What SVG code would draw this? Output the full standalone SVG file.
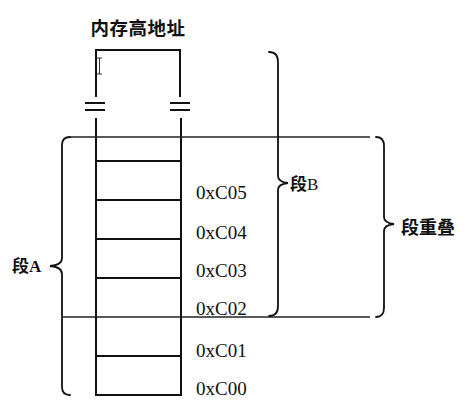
<svg xmlns="http://www.w3.org/2000/svg" width="471" height="406" viewBox="0 0 471 406">
<style>
.col{stroke:#111;stroke-width:2;fill:none}
.thin{stroke:#222;stroke-width:1.3;fill:none}
.brace{stroke:#111;stroke-width:1.8;fill:none;stroke-linecap:round}
.addr{font-family:"Liberation Serif",serif;font-size:19px;fill:#111}
.cjk{font-family:"Liberation Serif","Noto Sans CJK SC",sans-serif;font-weight:bold;fill:#111}
</style>
<rect width="471" height="406" fill="#fff"/>
<g id="title"><text class="cjk" x="138" y="35" font-size="18.5" text-anchor="middle" letter-spacing="0.5">内存高地址</text></g>
<g id="memory-column">
<path class="col" d="M96,97 V50 H180 V97"/>
<path class="col" d="M85,103 H105 M85,110 H105 M170,103 H190 M170,110 H190"/>
<path class="col" d="M96,118 V395 H181 V118"/>
<path class="col" d="M96,161 H181 M96,200 H181 M96,239 H181 M96,278 H181 M96,356 H181"/>
<path d="M97,58 H102 M99.5,58 V74 M97,74 H102" stroke="#333" stroke-width="1" fill="none"/>
</g>
<g id="connectors">
<path class="thin" d="M70,137 H370"/>
<path class="thin" d="M63,317 H370"/>
</g>
<g id="segA">
<path class="brace" d="M70,137 Q62,137 62,145 L62,258 Q62,265 50,266 Q62,267 62,274 L62,387 Q62,395 70,395"/>
<text class="cjk" x="12" y="272" font-size="17">段A</text>
</g>
<g id="segB">
<path class="brace" d="M269,52 Q278,52 278,62 L278,176 Q278,182 288,183 Q278,184 278,190 L278,306 Q278,316 269,316"/>
<text x="290" y="190" font-size="17" font-family="Liberation Serif, Noto Sans CJK SC, serif" fill="#111"><tspan font-weight="bold">段</tspan>B</text>
</g>
<g id="overlap">
<path class="brace" d="M376,137 Q384,137 384,146 L384,217 Q384,223 394,224 Q384,225 384,231 L384,308 Q384,317 376,317"/>
<text class="cjk" x="401" y="234" font-size="18">段重叠</text>
</g>
<g id="labels">
<text class="addr" x="196" y="199">0xC05</text>
<text class="addr" x="196" y="239">0xC04</text>
<text class="addr" x="196" y="277">0xC03</text>
<text class="addr" x="196" y="315">0xC02</text>
<text class="addr" x="196" y="357">0xC01</text>
<text class="addr" x="196" y="395">0xC00</text>
</g>
</svg>
